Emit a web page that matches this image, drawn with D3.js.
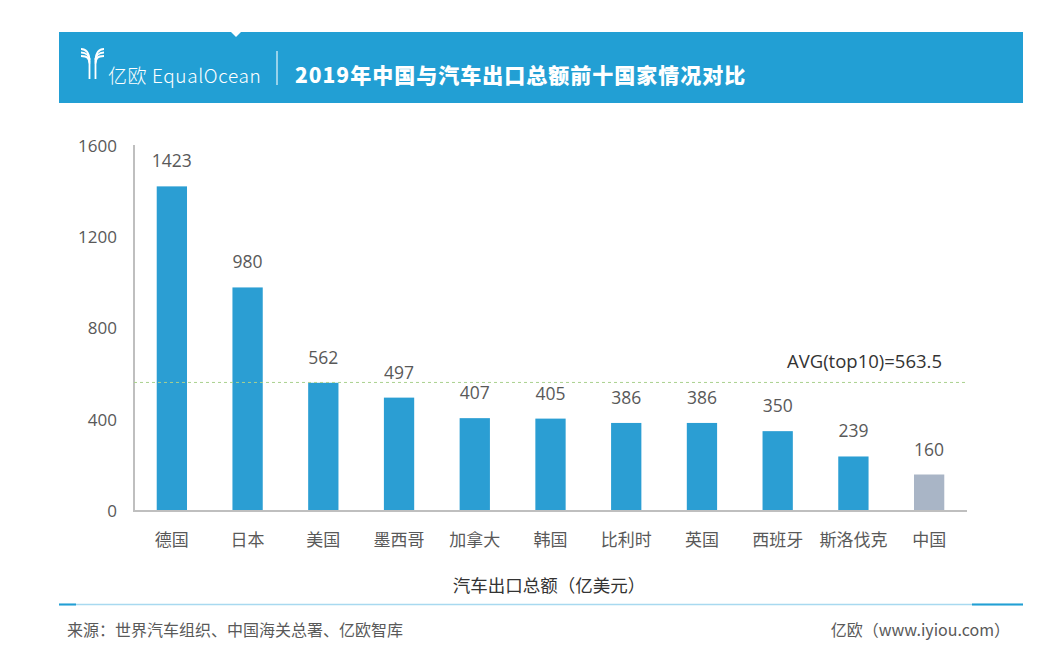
<!DOCTYPE html>
<html>
<head>
<meta charset="utf-8">
<script src="https://cdn.jsdelivr.net/npm/d3@7"></script>
<style>
  body { margin: 0; background: #fff; }
  svg { display: block; font-family: "Open Sans", "Noto Sans CJK SC", sans-serif; }
</style>
</head>
<body>
<svg id="chart" width="1043" height="650"></svg>
<script>
// chart data
const countries = ["德国", "日本", "美国", "墨西哥", "加拿大", "韩国", "比利时", "英国", "西班牙", "斯洛伐克", "中国"];
const exportValues = [1423, 980, 562, 497, 407, 405, 386, 386, 350, 239, 160];
const yTicks = [0, 400, 800, 1200, 1600];
const avgTop10 = 563.5;
const highlight = "中国";

const titleText = "2019年中国与汽车出口总额前十国家情况对比";
const axisTitle = "汽车出口总额（亿美元）";
const sourceText = "来源：世界汽车组织、中国海关总署、亿欧智库";
const siteText = "亿欧（www.iyiou.com）";

const svg = d3.select("#chart");
const cjk = "'Noto Sans CJK SC', sans-serif";

// --- header band ---
svg.append("rect")
  .attr("x", 59).attr("y", 32)
  .attr("width", 964).attr("height", 71)
  .attr("fill", "#229fd4");

// little notch on the top edge
svg.append("path")
  .attr("d", "M231,32 L241,32 L236,37 Z")
  .attr("fill", "#fff");

// logo mark, rough take on the arcs of the Y
const logo = svg.append("g")
  .attr("fill", "none")
  .attr("stroke", "#fff")
  .attr("stroke-width", 1.8);
[0, 3.5, 7].forEach((o) => {
  logo.append("path").attr("d", `M81,${49 + o} C${86 + o * 0.3},${49 + o} ${89},${52 + o} ${89.5},${60 + o * 0.5}`);
  logo.append("path").attr("d", `M104,${49 + o} C${99 - o * 0.3},${49 + o} ${96},${52 + o} ${95.5},${60 + o * 0.5}`);
});
logo.append("path").attr("d", "M89.5,58 L89.5,79 M95.5,58 L95.5,79");

svg.append("text")
  .attr("x", 108).attr("y", 83)
  .attr("fill", "#fff")
  .style("font-family", cjk)
  .style("font-weight", 300)
  .style("font-size", "19px")
  .style("letter-spacing", "0.6px")
  .text("亿欧 EqualOcean");

svg.append("line")
  .attr("x1", 277).attr("x2", 277)
  .attr("y1", 51).attr("y2", 85)
  .attr("stroke", "#bfe3f3")
  .attr("stroke-width", 1.5);

svg.append("text")
  .attr("x", 295).attr("y", 83)
  .attr("fill", "#fff")
  .style("font-family", cjk)
  .style("font-weight", 900)
  .style("font-size", "21px")
  .style("letter-spacing", "1px")
  .text(titleText);

// --- chart ---
const x = d3.scaleBand()
  .domain(countries)
  .range([134, 967])
  .paddingInner(0.6)
  .paddingOuter(0.3);

const y = d3.scaleLinear()
  .domain([0, 1600])
  .range([511, 146]);

// y tick labels (no tick marks)
const yAxis = svg.append("g")
  .attr("transform", "translate(134,0)")
  .call(d3.axisLeft(y).tickValues(yTicks).tickSize(0).tickPadding(17).tickFormat(d3.format("d")));
yAxis.select(".domain").remove();
yAxis.selectAll("text")
  .attr("fill", "#595959")
  .style("font-family", "'Open Sans', sans-serif")
  .style("font-size", "17px");

// bars
const data = countries.map((c, i) => ({ country: c, value: exportValues[i] }));

svg.append("g")
  .selectAll("rect")
  .data(data)
  .join("rect")
  .attr("x", (d) => x(d.country))
  .attr("y", (d) => y(d.value))
  .attr("width", x.bandwidth())
  .attr("height", (d) => y(0) - y(d.value))
  .attr("fill", (d) => (d.country === highlight ? "#a9b5c6" : "#2b9ed3"));

// value labels
svg.append("g")
  .selectAll("text")
  .data(data)
  .join("text")
  .attr("x", (d) => x(d.country) + x.bandwidth() / 2)
  .attr("y", (d) => y(d.value) - 19)
  .attr("text-anchor", "middle")
  .attr("fill", "#595959")
  .style("font-family", "'Open Sans', sans-serif")
  .style("font-size", "17.5px")
  .text((d) => d.value);

// axes lines
svg.append("line")
  .attr("x1", 134).attr("x2", 134)
  .attr("y1", y(1600) - 1).attr("y2", y(0) + 1)
  .attr("stroke", "#bfbfbf")
  .attr("stroke-width", 2);
svg.append("line")
  .attr("x1", 133).attr("x2", 967)
  .attr("y1", y(0)).attr("y2", y(0))
  .attr("stroke", "#bfbfbf")
  .attr("stroke-width", 2);

// category labels
const xAxis = svg.append("g")
  .attr("transform", `translate(0,${y(0)})`)
  .call(d3.axisBottom(x).tickSize(0).tickPadding(23));
xAxis.select(".domain").remove();
xAxis.selectAll("text")
  .attr("fill", "#595959")
  .style("font-family", cjk)
  .style("font-size", "17px");

// average line
svg.append("line")
  .attr("x1", 134).attr("x2", 968)
  .attr("y1", y(avgTop10)).attr("y2", y(avgTop10))
  .attr("stroke", "#a9d18e")
  .attr("stroke-width", 1)
  .attr("stroke-dasharray", "3,3");

svg.append("text")
  .attr("x", 942)
  .attr("y", y(avgTop10) - 14)
  .attr("text-anchor", "end")
  .attr("fill", "#333")
  .style("font-family", "'Open Sans', sans-serif")
  .style("font-size", "18.5px")
  .text(`AVG(top10)=${avgTop10}`);

// axis title
svg.append("text")
  .attr("x", 549).attr("y", 592)
  .attr("text-anchor", "middle")
  .attr("fill", "#333")
  .style("font-family", cjk)
  .style("font-size", "17.5px")
  .text(axisTitle);

// --- footer ---
svg.append("line")
  .attr("x1", 59).attr("x2", 1023)
  .attr("y1", 604.5).attr("y2", 604.5)
  .attr("stroke", "#a8d9f0")
  .attr("stroke-width", 1.5);
svg.append("line")
  .attr("x1", 59).attr("x2", 76)
  .attr("y1", 604.5).attr("y2", 604.5)
  .attr("stroke", "#229fd4")
  .attr("stroke-width", 2);
svg.append("line")
  .attr("x1", 972).attr("x2", 1023)
  .attr("y1", 604.5).attr("y2", 604.5)
  .attr("stroke", "#229fd4")
  .attr("stroke-width", 2);

svg.append("text")
  .attr("x", 67).attr("y", 636)
  .attr("fill", "#595959")
  .style("font-family", cjk)
  .style("font-size", "16px")
  .text(sourceText);

svg.append("text")
  .attr("x", 1010).attr("y", 636)
  .attr("text-anchor", "end")
  .attr("fill", "#595959")
  .style("font-family", cjk)
  .style("font-size", "16px")
  .text(siteText);
</script>
</body>
</html>
